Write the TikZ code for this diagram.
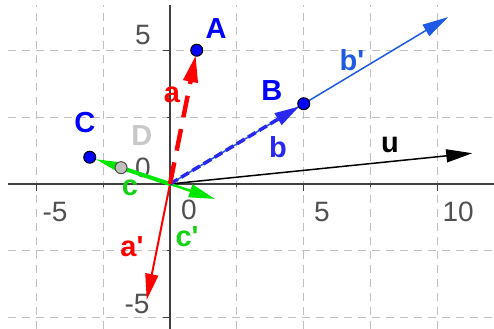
\documentclass[tikz,border=0pt]{standalone}
\usepackage{fontspec}
\setmainfont{Liberation Sans}
\usetikzlibrary{arrows.meta}
\definecolor{ggblue}{RGB}{0,0,255}
\definecolor{ggbvec}{RGB}{40,40,240}
\definecolor{ggbprime}{RGB}{30,90,230}
\definecolor{ggred}{RGB}{255,0,0}
\definecolor{gggreen}{RGB}{0,230,0}
\definecolor{gglabgreen}{RGB}{20,210,20}
\definecolor{gggrid}{RGB}{192,192,192}
\definecolor{ggaxis}{RGB}{64,64,64}
\definecolor{ggnum}{RGB}{80,80,80}
\definecolor{ggD}{RGB}{200,200,200}
\newcommand{\pr}{\textquotesingle}
\tikzset{
  gridline/.style={gggrid, line width=1.2pt, dash pattern=on 8pt off 6pt},
  axisline/.style={ggaxis, line width=1.2pt},
  tickmark/.style={ggaxis, line width=1.2pt},
  numlab/.style={ggnum, inner sep=0pt, font=\fontsize{28}{28}\selectfont},
  ptlab/.style={inner sep=0pt, font=\fontsize{29}{29}\selectfont\bfseries},
  pt/.style={circle, draw=black, line width=1pt, fill=ggblue, inner sep=0pt, minimum size=12pt},
  ptD/.style={circle, draw=black!70, line width=1pt, fill=black!25, inner sep=0pt, minimum size=12pt},
  head/.style={-{Triangle[length=26pt,width=13pt]}},
}
\begin{document}
\begin{tikzpicture}[x=26.75pt,y=26.75pt]
\useasboundingbox (-6.355,-5.42) rectangle (12.112,6.878);
% grid
\foreach \y in {-5,-2.5,2.5,5} \draw[gridline] (-6.06,\y) -- (12.112,\y);
\foreach \x in {-5,-2.5,2.5,5,7.5,10} \draw[gridline] (\x,-5.42) -- (\x,6.69);
% axes
\draw[axisline] (-6.06,0) -- (12.112,0);
\draw[axisline] (0,-5.42) -- (0,6.69);
\foreach \x in {-5,5,10} \draw[tickmark] (\x,0) -- (\x,-0.26);
\foreach \x in {-2.5,2.5,7.5} \draw[tickmark] (\x,0) -- (\x,-0.13);
\foreach \y in {-5,5} \draw[tickmark] (0,\y) -- (-0.26,\y);
\foreach \y in {-2.5,2.5} \draw[tickmark] (0,\y) -- (-0.13,\y);
% axis numbers
\node[numlab] (n5y) at (-1.01,5.57) {5};
\node[numlab] (n0y) at (-1.01,0.60) {0};
\node[numlab] (nm5y) at (-1.23,-4.49) {-5};
\node[numlab] (nm5x) at (-4.30,-1.05) {-5};
\node[numlab] (n0x) at (0.71,-0.95) {0};
\node[numlab] (n5x) at (5.68,-1.05) {5};
\node[numlab] (n10x) at (10.77,-1.05) {10};
% origin and free ends
\coordinate (O) at (0,0);
\coordinate (Bp) at (10.4,6.24);
\coordinate (U) at (11.3,1.15);
\coordinate (Ap) at (-0.87,-4.33);
\coordinate (Cp) at (1.68,-0.56);
\path (1,5) coordinate (Ac);
\path (5,3) coordinate (Bc);
\path (-3,1) coordinate (Cc);
% vectors
\draw[head, ggbprime, line width=1.5pt] (O) -- (Bp);
\draw[head, black, line width=1.5pt] (O) -- (U);
\draw[head, ggred, line width=2pt] (O) -- (Ap);
\draw[head, gggreen, line width=2.5pt] (O) -- (Cp);
\draw[-{Triangle[length=28pt,width=9pt]}, gggreen, line width=4pt, shorten >=4pt] (O) -- (Cc);
\draw[-{Triangle[length=25pt,width=13pt]}, ggbvec, line width=3.5pt, dash pattern=on 9pt off 4pt, shorten >=5pt] (O) -- (Bc);
\draw[-{Triangle[length=27pt,width=14pt]}, ggred, line width=4.5pt, dash pattern=on 22pt off 12pt, shorten >=5pt] (O) -- (Ac);
% points
\node[pt] (A) at (Ac) {};
\node[pt] (B) at (Bc) {};
\node[pt] (C) at (Cc) {};
\node[ptD] (D) at (-1.83,0.61) {};
% labels
\node[ptlab, ggblue] (lA) at (1.72,5.83) {A};
\node[ptlab, ggblue] (lB) at (3.81,3.51) {B};
\node[ptlab, ggblue] (lC) at (-3.18,2.28) {C};
\node[ptlab, ggD] (lD) at (-1.05,1.83) {D};
\node[ptlab, ggred] (la) at (0.07,3.33) {a};
\node[ptlab, ggred] (lap) at (-1.42,-2.36) {a\pr};
\node[ptlab, ggbvec] (lb) at (4.04,1.38) {b};
\node[ptlab, ggbprime] (lbp) at (6.80,4.64) {b\pr};
\node[ptlab, gglabgreen] (lc) at (-1.50,-0.15) {c};
\node[ptlab, gglabgreen] (lcp) at (0.64,-1.97) {c\pr};
\node[ptlab, black] (lu) at (8.22,1.46) {u};
\end{tikzpicture}
\end{document}
